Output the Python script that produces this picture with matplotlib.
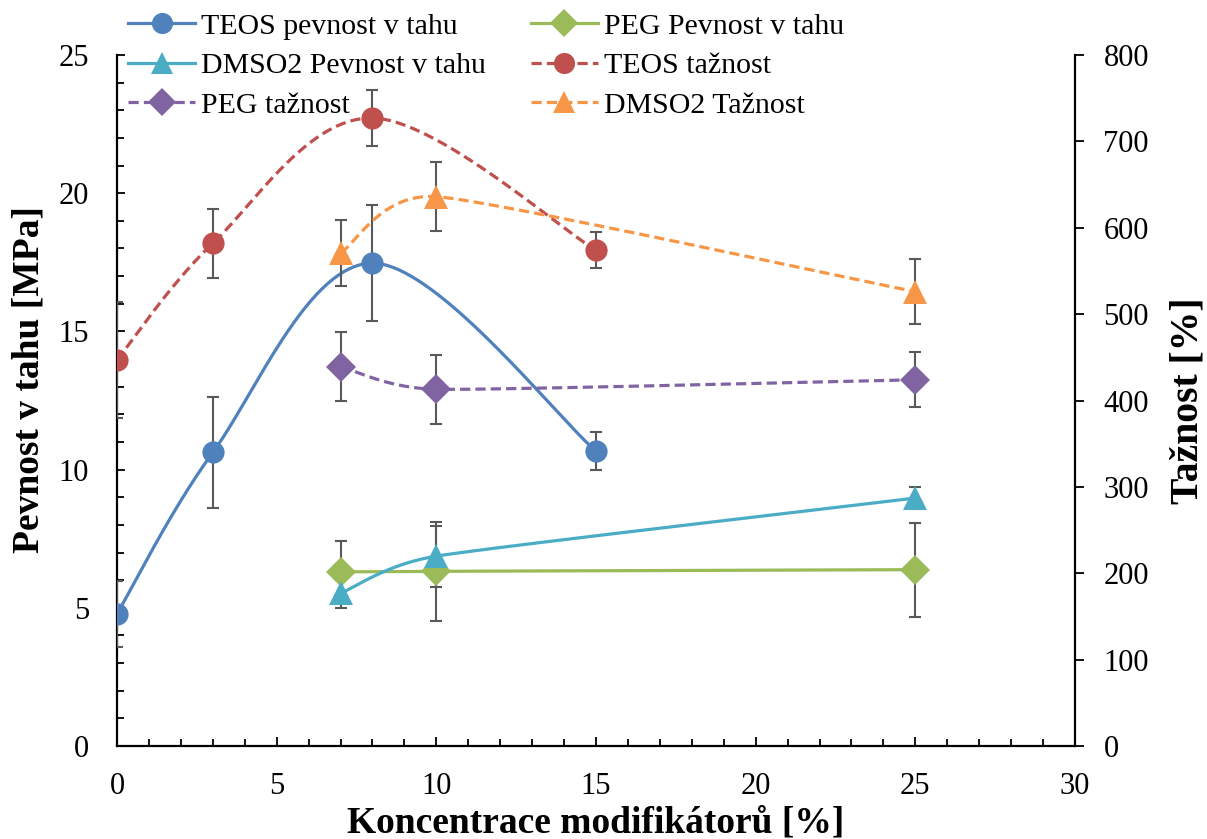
import numpy as np
import matplotlib
matplotlib.use("Agg")
import matplotlib.pyplot as plt
from matplotlib.ticker import MultipleLocator

plt.rcParams['font.family'] = ['Liberation Serif', 'DejaVu Serif']

# ---- data ----
teos_x = [0, 3, 8, 15]
teos_pev = [4.78, 10.62, 17.47, 10.67]
teos_pev_err = [1.2, 2.0, 2.1, 0.7]
teos_taz = [447, 582, 727, 574]
teos_taz_err = [67, 40, 32, 21]

mod_x = [7, 10, 25]
peg_pev = [6.30, 6.32, 6.38]
peg_pev_err = [1.1, 1.8, 1.7]
dmso_pev = [5.53, 6.87, 8.97]
dmso_pev_err = [0.55, 1.1, 0.4]
peg_taz = [439, 413, 424]
peg_taz_err = [40, 40, 32]
dmso_taz = [571, 636, 526]
dmso_taz_err = [38, 40, 38]

labels = ["TEOS pevnost v tahu", "PEG Pevnost v tahu", "DMSO2 Pevnost v tahu",
          "TEOS tažnost", "PEG tažnost", "DMSO2 Tažnost"]
colors = ["#4F81BD", "#9BBB59", "#4BACC6", "#C0504D", "#8064A2", "#F79646"]


def excel_smooth(a, xs, ys, n=80):
    """Excel-like smoothed line: Bezier segments built in display space."""
    P = a.transData.transform(np.column_stack([xs, ys]).astype(float))
    m = len(P)
    fwd = np.zeros_like(P)
    back = np.zeros_like(P)
    for i in range(m):
        if i == 0:
            T = P[1] - P[0]
            f = 1 / 6
        elif i == m - 1:
            T = P[-1] - P[-2]
            f = 1 / 6
        else:
            T = P[i + 1] - P[i - 1]
            d02 = np.hypot(*T)
            d01 = np.hypot(*(P[i] - P[i - 1]))
            d12 = np.hypot(*(P[i + 1] - P[i]))
            f = 1 / 6
            if d02 * f > d01 / 2 or d02 * f > d12 / 2:
                f = min(d01, d12) / (2 * d02)
        fwd[i] = P[i] + f * T
        back[i] = P[i] - f * T
    t = np.linspace(0, 1, n)[:, None]
    out = []
    for i in range(m - 1):
        p1, c1, c2, p2 = P[i], fwd[i], back[i + 1], P[i + 1]
        seg = ((1 - t) ** 3) * p1 + 3 * ((1 - t) ** 2) * t * c1 + 3 * (1 - t) * t ** 2 * c2 + t ** 3 * p2
        out.append(seg if i == 0 else seg[1:])
    s = a.transData.inverted().transform(np.vstack(out))
    return s[:, 0], s[:, 1]


fig = plt.figure(figsize=(12.07, 8.39), dpi=100)
ax = fig.add_axes([117 / 1207, 1 - 746 / 839, (1075 - 117) / 1207, (746 - 55) / 839])
ax2 = ax.twinx()

ax.set_xlim(0, 30)
ax.set_ylim(0, 25)
ax2.set_ylim(0, 800)

lw = 2.3
errc = "#595959"
msizes = {'o': 16, 'D': 15.5, '^': 17}

series = [
    (ax, teos_x, teos_pev, teos_pev_err, 'o', '-', 0),
    (ax, mod_x, peg_pev, peg_pev_err, 'D', '-', 1),
    (ax, mod_x, dmso_pev, dmso_pev_err, '^', '-', 2),
    (ax2, teos_x, teos_taz, teos_taz_err, 'o', '--', 3),
    (ax2, mod_x, peg_taz, peg_taz_err, 'D', '--', 4),
    (ax2, mod_x, dmso_taz, dmso_taz_err, '^', '--', 5),
]

handles = []
for a, xs, ys, es, mk, ls, k in series:
    sx, sy = excel_smooth(a, xs, ys)
    dash = (3.2, 1.6) if ls == '--' else None
    ln, = a.plot(sx, sy, color=colors[k], lw=lw, zorder=2)
    if dash:
        ln.set_dashes(dash)
    a.errorbar(xs, ys, yerr=es, fmt='none', ecolor=errc, elinewidth=1.5,
               capsize=4.5, capthick=1.5, zorder=3)
    msz = msizes[mk]
    a.plot(xs, ys, linestyle='none', marker=mk, markersize=msz,
           color=colors[k], markeredgewidth=0, zorder=4)
    h, = a.plot([], [], color=colors[k], lw=lw, marker=mk, markersize=msz * 0.95,
                markeredgewidth=0)
    if dash:
        h.set_dashes(dash)
    handles.append(h)

ax.xaxis.set_major_locator(MultipleLocator(5))
ax.xaxis.set_minor_locator(MultipleLocator(1))
ax.yaxis.set_major_locator(MultipleLocator(5))
ax.yaxis.set_minor_locator(MultipleLocator(1))
ax2.yaxis.set_major_locator(MultipleLocator(100))

tick_fs = 22
ax.tick_params(axis='x', which='major', direction='in', length=6.5, width=1.3,
               pad=19, labelsize=tick_fs)
ax.tick_params(axis='x', which='minor', direction='in', length=4.7, width=1.3)
ax.tick_params(axis='y', which='major', direction='in', length=6, width=1.3,
               pad=20, labelsize=tick_fs)
ax.tick_params(axis='y', which='minor', direction='in', length=5, width=1.3)
ax2.tick_params(axis='y', which='major', direction='out', length=6.5, width=1.3,
                pad=14, labelsize=tick_fs)

for a in (ax, ax2):
    a.spines['top'].set_visible(False)
    for s in ('left', 'right', 'bottom'):
        a.spines[s].set_linewidth(1.6)
ax.spines['right'].set_visible(False)
ax2.spines['left'].set_visible(False)
ax2.spines['bottom'].set_visible(False)

lab_fs = 27
ax.set_xlabel("Koncentrace modifikátorů [%]", fontsize=lab_fs, fontweight='bold', labelpad=3)
ax.set_ylabel("Pevnost v tahu [MPa]", fontsize=lab_fs, fontweight='bold', labelpad=9)
ax.yaxis.label.set_y(0.53)
ax2.set_ylabel("Tažnost [%]", fontsize=28.5, fontweight='bold', labelpad=15)

order = [0, 2, 4, 1, 3, 5]
leg = fig.legend([handles[i] for i in order], [labels[i] for i in order],
                 ncol=2, loc='upper left', bbox_to_anchor=(128 / 1207, 1 - 13 / 839),
                 frameon=False, fontsize=21.5, handlelength=2.25, handletextpad=0.2,
                 columnspacing=1.5, labelspacing=0.42, borderpad=0, borderaxespad=0)

fig.savefig("out.png", dpi=100)
